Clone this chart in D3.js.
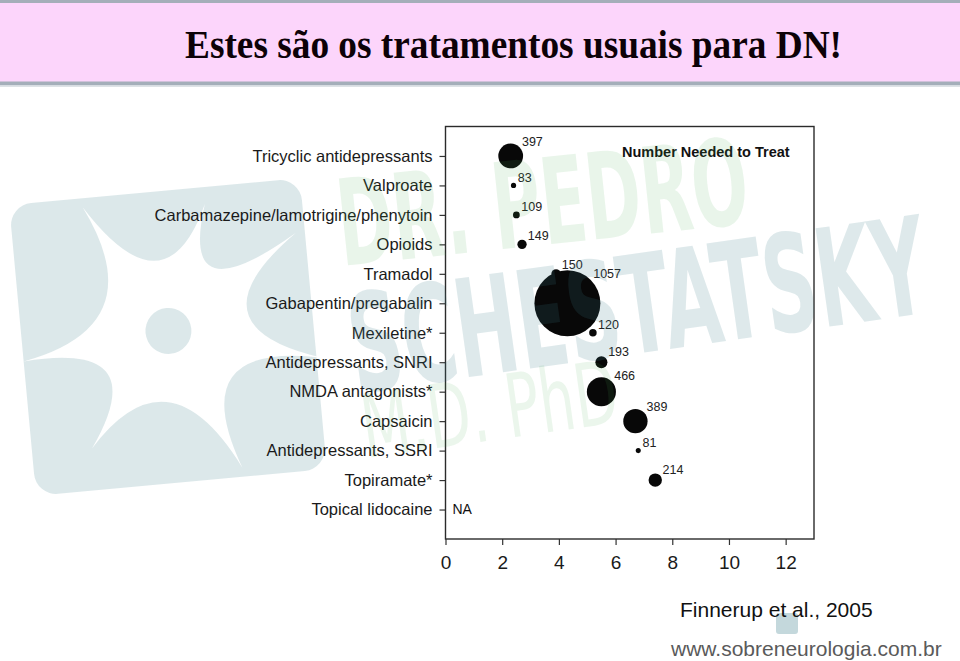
<!DOCTYPE html>
<html>
<head>
<meta charset="utf-8">
<script src="https://cdn.jsdelivr.net/npm/d3@7"></script>
<style>
  html, body { margin: 0; padding: 0; background: #fff; }
  svg { display: block; }
</style>
</head>
<body>
<svg id="chart" width="960" height="661"></svg>
<script>
// ---------------- DATA ----------------
const titleText = "Estes são os tratamentos usuais para DN!";
const categories = [
  "Tricyclic antidepressants",
  "Valproate",
  "Carbamazepine/lamotrigine/phenytoin",
  "Opioids",
  "Tramadol",
  "Gabapentin/pregabalin",
  "Mexiletine*",
  "Antidepressants, SNRI",
  "NMDA antagonists*",
  "Capsaicin",
  "Antidepressants, SSRI",
  "Topiramate*",
  "Topical lidocaine"
];
const nntValues     = [2.3, 2.4, 2.5, 2.7, 3.9, 4.3, 5.2, 5.5, 5.5, 6.7, 6.8, 7.4, null];
const patientCounts = [397, 83, 109, 149, 150, 1057, 120, 193, 466, 389, 81, 214, null];
const xTicks = [0, 2, 4, 6, 8, 10, 12];
const xDomain = [0, 13];
const legendText = "Number Needed to Treat";
const naText = "NA";
const citation = "Finnerup et al., 2005";
const website = "www.sobreneurologia.com.br";
const watermarkLines = ["DR. PEDRO", "SCHESTATSKY", "M.D. PhD"];

// ---------------- LAYOUT ----------------
const svg = d3.select("#chart");
const W = 960, H = 661;
const plot = { left: 445.5, right: 814, top: 126.5, bottom: 539 };
const labelFont = "'Liberation Sans', Arial, sans-serif";

// title band
svg.append("rect").attr("x", 0).attr("y", 0).attr("width", W).attr("height", 84).attr("fill", "#fcd5fb");
svg.append("rect").attr("x", 0).attr("y", 0).attr("width", W).attr("height", 3).attr("fill", "#a4aeb9");
svg.append("rect").attr("x", 0).attr("y", 81.5).attr("width", W).attr("height", 4).attr("fill", "#a4aeb9");
svg.append("rect").attr("x", 0).attr("y", 85.5).attr("width", W).attr("height", 1.5).attr("fill", "#dde2e6");
svg.append("text")
  .attr("x", 185).attr("y", 57.5)
  .attr("textLength", 657).attr("lengthAdjust", "spacingAndGlyphs")
  .attr("font-family", "'Liberation Serif', 'Times New Roman', serif")
  .attr("font-weight", "bold").attr("font-size", 39).attr("fill", "#0d0208")
  .text(titleText);

// ---------------- watermark logo (behind) ----------------
const defs = svg.append("defs");
const mask = defs.append("mask").attr("id", "neuronMask");
mask.append("rect").attr("x", 0).attr("y", 0).attr("width", W).attr("height", H).attr("fill", "#fff");
const c0 = [169, 331];
const tips = [[95, 200], [217, 208], [305, 245], [320, 372], [230, 474], [82, 441], [22, 348]];
let p = d3.path();
p.moveTo(tips[0][0], tips[0][1]);
tips.forEach((t, i) => {
  const n = tips[(i + 1) % tips.length];
  const mx = (t[0] + n[0]) / 2, my = (t[1] + n[1]) / 2;
  const k = 0.12;
  p.quadraticCurveTo(c0[0] + k * (mx - c0[0]), c0[1] + k * (my - c0[1]), n[0], n[1]);
});
p.closePath();
mask.append("path").attr("d", p.toString()).attr("fill", "#000");
mask.append("circle").attr("cx", c0[0]).attr("cy", c0[1]).attr("r", 23).attr("fill", "#fff");

svg.append("rect")
  .attr("x", 168 - 146).attr("y", 337 - 146).attr("width", 292).attr("height", 292)
  .attr("rx", 22)
  .attr("transform", "rotate(-5.3,168,337)")
  .attr("fill", "#3d7f8a").attr("fill-opacity", 0.18)
  .attr("mask", "url(#neuronMask)");

// ---------------- SCALES ----------------
const x = d3.scaleLinear().domain(xDomain).range([plot.left, plot.right]);
const y = d3.scalePoint().domain(categories).range([plot.top, plot.bottom]).padding(1);
const r = d3.scaleLinear().domain([0, d3.max(patientCounts)]).range([0, 33]);

// axes
const gy = svg.append("g").attr("transform", `translate(${plot.left},0)`)
  .call(d3.axisLeft(y).tickSize(6).tickPadding(7));
gy.select(".domain").remove();
gy.selectAll(".tick line").attr("stroke", "#333").attr("stroke-width", 1.2);
gy.selectAll(".tick text")
  .attr("font-family", labelFont).attr("font-size", 16.5).attr("fill", "#1a1a1a");

const gx = svg.append("g").attr("transform", `translate(0,${plot.bottom})`)
  .call(d3.axisBottom(x).tickValues(xTicks).tickSize(6).tickPadding(11));
gx.select(".domain").remove();
gx.selectAll(".tick line").attr("stroke", "#333").attr("stroke-width", 1.2);
gx.selectAll(".tick text")
  .attr("font-family", labelFont).attr("font-size", 19).attr("fill", "#1a1a1a");

// frame
svg.append("rect")
  .attr("x", plot.left).attr("y", plot.top)
  .attr("width", plot.right - plot.left).attr("height", plot.bottom - plot.top)
  .attr("fill", "none").attr("stroke", "#2b2b2b").attr("stroke-width", 1.4);

// ---------------- BUBBLES ----------------
const rows = categories.map((c, i) => ({ cat: c, v: nntValues[i], n: patientCounts[i] }));
const valid = rows.filter(d => d.v != null);

svg.append("g").selectAll("circle")
  .data(valid).join("circle")
  .attr("cx", d => x(d.v)).attr("cy", d => y(d.cat)).attr("r", d => r(d.n))
  .attr("fill", "#080808");

svg.append("g").selectAll("text")
  .data(valid).join("text")
  .attr("x", d => x(d.v) + r(d.n) * 0.707 + 2.5)
  .attr("y", d => y(d.cat) - r(d.n) * 0.707 - 1.5)
  .attr("font-family", labelFont).attr("font-size", 12.5).attr("fill", "#222")
  .text(d => d.n);

// NA entries
svg.append("g").selectAll("text")
  .data(rows.filter(d => d.v == null)).join("text")
  .attr("x", x(0) + 7).attr("y", d => y(d.cat) + 4)
  .attr("font-family", labelFont).attr("font-size", 14).attr("fill", "#111")
  .text(naText);

// legend title
svg.append("text")
  .attr("x", 622).attr("y", 157)
  .attr("font-family", labelFont).attr("font-weight", "bold").attr("font-size", 14.5)
  .attr("fill", "#111")
  .text(legendText);

// ---------------- watermark text (overlay) ----------------
const wm = svg.append("g").attr("pointer-events", "none");
function stretched(txt, tx, ty, angle, targetW, size, weight, fill, op) {
  const t = wm.append("text")
    .attr("font-family", "'DejaVu Sans Condensed', 'DejaVu Sans', sans-serif")
    .attr("font-weight", weight).attr("font-size", size)
    .attr("fill", fill).attr("fill-opacity", op)
    .text(txt);
  const len = t.node().getComputedTextLength();
  t.attr("transform", `translate(${tx},${ty}) rotate(${angle}) scale(${targetW / len},1)`);
}
stretched(watermarkLines[0], 342, 266, -6, 412, 120, "bold", "#4caf50", 0.12);
stretched(watermarkLines[1], 356, 393, -8, 582, 136, "bold", "#3d7f8a", 0.17);
stretched(watermarkLines[2], 366, 458, -8, 258, 88, "normal", "#4caf50", 0.11);

// ---------------- footer ----------------
svg.append("rect")
  .attr("x", 776).attr("y", 613).attr("width", 22).attr("height", 21).attr("rx", 3)
  .attr("fill", "#3d7f8a").attr("fill-opacity", 0.3);
svg.append("text")
  .attr("x", 680).attr("y", 617)
  .attr("font-family", labelFont).attr("font-size", 21).attr("fill", "#111")
  .text(citation);
svg.append("text")
  .attr("x", 671).attr("y", 656)
  .attr("font-family", labelFont).attr("font-size", 21).attr("fill", "#5a5a5a")
  .text(website);
</script>
</body>
</html>
